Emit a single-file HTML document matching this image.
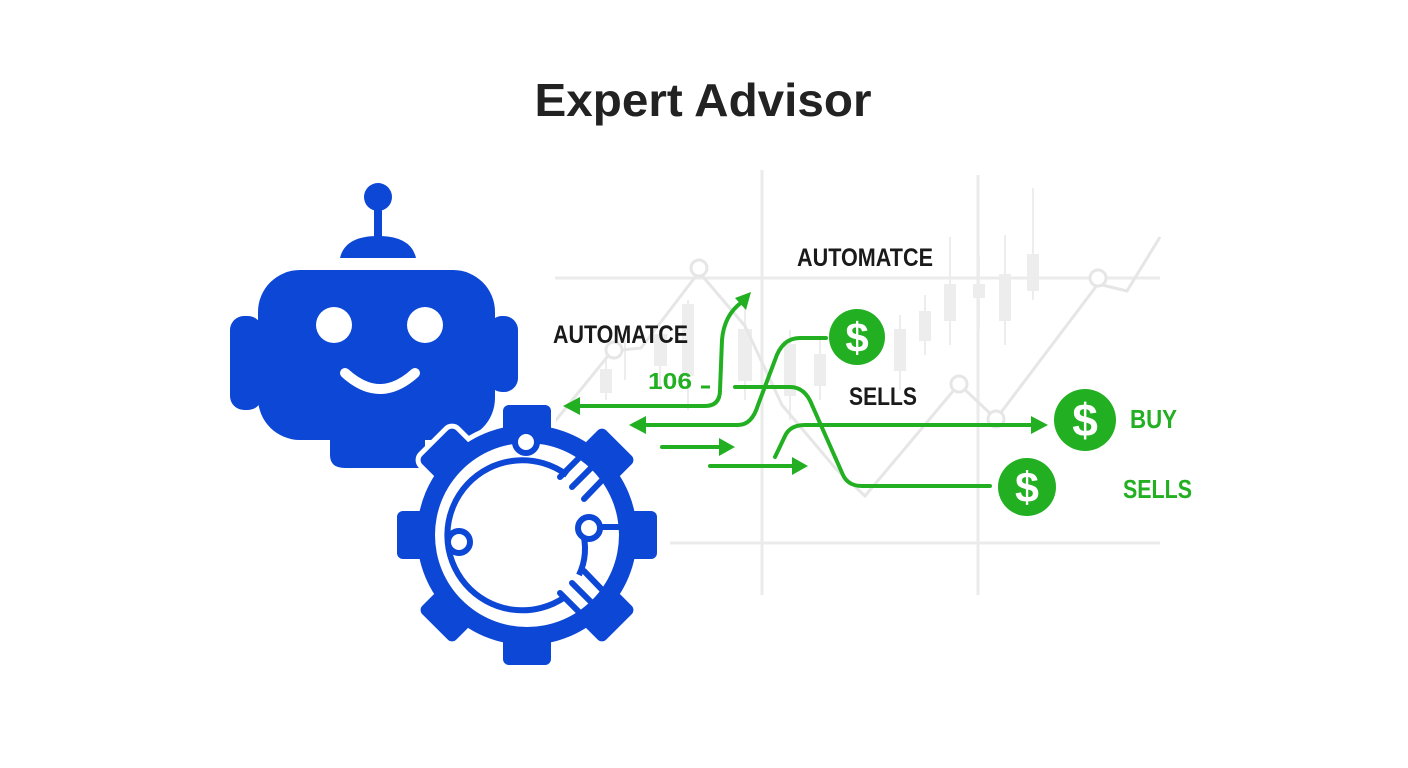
<!DOCTYPE html>
<html><head><meta charset="utf-8"><style>
html,body{margin:0;padding:0;background:#fff;}
svg{display:block;}
.t{font-family:"Liberation Sans Narrow","Liberation Sans",sans-serif;font-weight:bold;}
</style></head><body>
<svg width="1408" height="768" viewBox="0 0 1408 768" xmlns="http://www.w3.org/2000/svg">
<rect width="1408" height="768" fill="#fff"/>
<text x="703" y="116" text-anchor="middle" font-family="Liberation Sans, sans-serif" font-weight="bold" font-size="46" fill="#222" textLength="337" lengthAdjust="spacingAndGlyphs">Expert Advisor</text>

<!-- chart grid -->
<g stroke="#ebebeb" stroke-width="3" fill="none">
<line x1="555" y1="278" x2="1160" y2="278"/>
<line x1="670" y1="543" x2="1160" y2="543"/>
<line x1="762" y1="170" x2="762" y2="595"/>
<line x1="978" y1="175" x2="978" y2="595"/>
</g>
<!-- candles -->
<g fill="#ededed" stroke="#ededed" stroke-width="2">
<line x1="606" y1="360" x2="606" y2="400"/><rect x="601" y="370" width="10" height="22"/>
<line x1="625" y1="340" x2="625" y2="380"/>
<line x1="660" y1="330" x2="660" y2="390"/><rect x="655" y="335" width="11" height="30"/>
<line x1="688" y1="300" x2="688" y2="410"/><rect x="683" y="305" width="10" height="70"/>
<line x1="745" y1="300" x2="745" y2="400"/><rect x="739" y="330" width="12" height="50"/>
<line x1="790" y1="330" x2="790" y2="420"/><rect x="785" y="345" width="10" height="50"/>
<line x1="820" y1="340" x2="820" y2="400"/><rect x="815" y="355" width="10" height="30"/>
<line x1="900" y1="315" x2="900" y2="390"/><rect x="895" y="330" width="10" height="40"/>
<line x1="925" y1="295" x2="925" y2="355"/><rect x="920" y="312" width="10" height="28"/>
<line x1="950" y1="237" x2="950" y2="345"/><rect x="945" y="285" width="10" height="35"/>
<line x1="979" y1="255" x2="979" y2="330"/><rect x="974" y="285" width="10" height="12"/>
<line x1="1005" y1="235" x2="1005" y2="345"/><rect x="1000" y="275" width="10" height="45"/>
<line x1="1033" y1="188" x2="1033" y2="300"/><rect x="1028" y="255" width="10" height="35"/>
</g>
<!-- line chart -->
<g stroke="#e6e6e6" stroke-width="3" fill="none">
<polyline points="552,425 612,351 641,348 699,272 745,326 782,405 836,469 865,496 959,384 996,419 1098,284 1127,291 1160,237"/>
<circle cx="699" cy="268" r="8" fill="#fff"/>
<circle cx="614" cy="350" r="8" fill="#fff"/>
<circle cx="959" cy="384" r="8" fill="#fff"/>
<circle cx="996" cy="419" r="8" fill="#fff"/>
<circle cx="1098" cy="278" r="8" fill="#fff"/>
</g>

<!-- green paths -->
<g stroke="#22b022" stroke-width="4" fill="none" stroke-linecap="round">
<path d="M575,406 L705,406 Q720,406 720,390 L722,340 Q724,315 742,302"/>
<path d="M640,425 L738,425 Q752,425 758,405 L775,360 Q782,338 800,338 L826,338"/>
<path d="M662,447 L722,447"/>
<path d="M710,466 L796,466"/>
<path d="M735,387 L790,387 Q805,387 812,405 L843,475 Q848,486 862,486 L990,486"/>
<path d="M775,457 L785,436 Q790,425 805,425 L1035,425"/>
</g>
<g fill="#22b022">
<polygon points="563,406 580,397 580,415"/>
<polygon points="629,425 646,416 646,434"/>
<polygon points="735,447 719,438 719,456"/>
<polygon points="808,466 792,457 792,475"/>
<polygon points="1048,425 1031,416 1031,434"/>
<polygon points="751,292 735,298 746,310"/>
</g>
<!-- dollar circles -->
<g font-family="Liberation Sans Narrow, Liberation Sans, sans-serif" font-weight="bold" fill="#fff" text-anchor="middle">
<circle cx="857" cy="337" r="28" fill="#22b022"/><text x="857" y="352" font-size="42">$</text>
<circle cx="1085" cy="420" r="31" fill="#22b022"/><text x="1085" y="436" font-size="46">$</text>
<circle cx="1027" cy="487" r="29" fill="#22b022"/><text x="1027" y="502" font-size="43">$</text>
</g>
<!-- labels -->
<text class="t" x="797" y="266" font-size="25" fill="#1a1a1a" textLength="136" lengthAdjust="spacingAndGlyphs">AUTOMATCE</text>
<text class="t" x="553" y="343" font-size="25" fill="#1a1a1a" textLength="135" lengthAdjust="spacingAndGlyphs">AUTOMATCE</text>
<text class="t" x="849" y="405" font-size="25" fill="#1a1a1a" textLength="68" lengthAdjust="spacingAndGlyphs">SELLS</text>
<text class="t" x="648" y="389" font-size="23" fill="#22b022" font-weight="normal" textLength="44" lengthAdjust="spacingAndGlyphs">106</text>
<line x1="701" y1="387" x2="710" y2="387" stroke="#22b022" stroke-width="3"/>
<text class="t" x="1130" y="428" font-size="26" fill="#22b022" textLength="47" lengthAdjust="spacingAndGlyphs">BUY</text>
<text class="t" x="1123" y="498" font-size="26" fill="#22b022" textLength="69" lengthAdjust="spacingAndGlyphs">SELLS</text>

<!-- robot -->
<g fill="#0d47d6">
<circle cx="378" cy="197" r="14"/>
<rect x="374" y="205" width="8" height="35"/>
<path d="M340,258 Q345,236 378,236 Q411,236 416,258 Z"/>
<rect x="230" y="316" width="32" height="94" rx="14"/>
<rect x="488" y="316" width="30" height="76" rx="14"/>
<rect x="258" y="270" width="237" height="170" rx="42"/>
<path d="M330,420 L425,420 L425,468 L345,468 Q330,468 330,455 Z"/>
</g>
<g fill="#fff">
<circle cx="334" cy="325" r="18"/>
<circle cx="425" cy="325" r="18"/>
</g>
<path d="M345,373 Q380,405 415,373" stroke="#fff" stroke-width="10" fill="none" stroke-linecap="round"/>

<!-- gear -->
<g transform="translate(527,535)">
<g fill="#0d47d6" stroke="#fff" stroke-width="10" stroke-linejoin="round">
<rect x="-24" y="-130" width="48" height="50" rx="6"/>
<rect x="-24" y="-130" width="48" height="50" rx="6" transform="rotate(45)"/>
<rect x="-24" y="-130" width="48" height="50" rx="6" transform="rotate(90)"/>
<rect x="-24" y="-130" width="48" height="50" rx="6" transform="rotate(135)"/>
<rect x="-24" y="-130" width="48" height="50" rx="6" transform="rotate(180)"/>
<rect x="-24" y="-130" width="48" height="50" rx="6" transform="rotate(225)"/>
<rect x="-24" y="-130" width="48" height="50" rx="6" transform="rotate(270)"/>
<rect x="-24" y="-130" width="48" height="50" rx="6" transform="rotate(315)"/>
<circle r="110"/>
</g>
<g fill="#0d47d6">
<rect x="-24" y="-130" width="48" height="50" rx="6"/>
<rect x="-24" y="-130" width="48" height="50" rx="6" transform="rotate(45)"/>
<rect x="-24" y="-130" width="48" height="50" rx="6" transform="rotate(90)"/>
<rect x="-24" y="-130" width="48" height="50" rx="6" transform="rotate(135)"/>
<rect x="-24" y="-130" width="48" height="50" rx="6" transform="rotate(180)"/>
<rect x="-24" y="-130" width="48" height="50" rx="6" transform="rotate(225)"/>
<rect x="-24" y="-130" width="48" height="50" rx="6" transform="rotate(270)"/>
<rect x="-24" y="-130" width="48" height="50" rx="6" transform="rotate(315)"/>
<circle r="110"/>
</g>
<circle r="92" fill="#fff"/>
<path d="M40,-60 A75,75 0 1,0 38,62" stroke="#0d47d6" stroke-width="6" fill="none"/>
<path d="M55,-5 A60,60 0 0,1 52,40" stroke="#0d47d6" stroke-width="6" fill="none"/>
<line x1="0" y1="-92" x2="0" y2="-80" stroke="#0d47d6" stroke-width="6"/>
<line x1="72" y1="-8" x2="92" y2="-8" stroke="#0d47d6" stroke-width="6"/>
<g stroke="#0d47d6" stroke-width="6" stroke-linecap="round">
<line x1="33" y1="-58" x2="60" y2="-85"/>
<line x1="45" y1="-48" x2="72" y2="-75"/>
<line x1="57" y1="-36" x2="82" y2="-62"/>
<line x1="33" y1="58" x2="60" y2="85"/>
<line x1="45" y1="48" x2="72" y2="75"/>
<line x1="57" y1="36" x2="82" y2="62"/>
</g>
<g fill="#fff" stroke="#0d47d6" stroke-width="6">
<circle cx="-1" cy="-93" r="11"/>
<circle cx="-68" cy="7" r="11"/>
<circle cx="62" cy="-7" r="11"/>
</g>
</g>
</svg>
</body></html>
